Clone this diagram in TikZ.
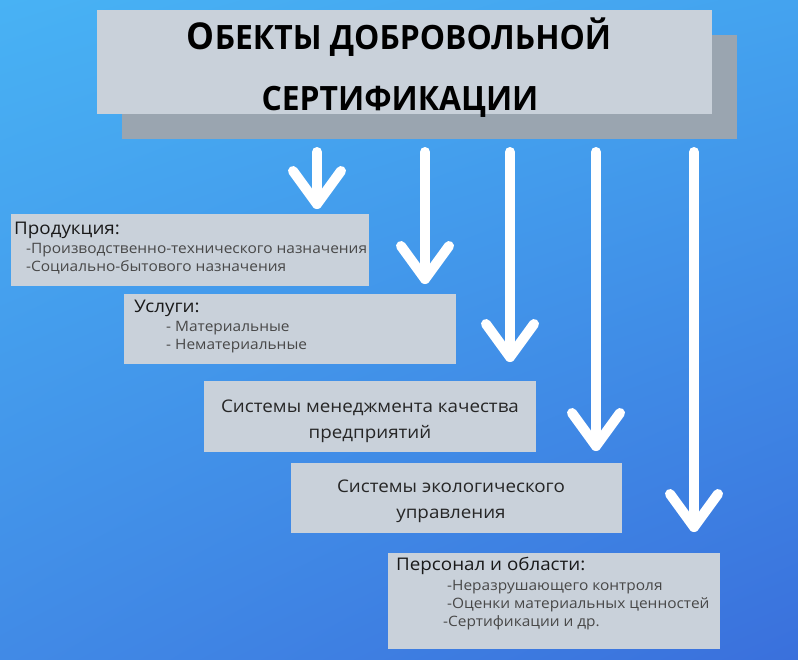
\documentclass[tikz,border=0pt]{standalone}
\usepackage{fontspec}
\usetikzlibrary{shadings}
\setmainfont[FakeStretch=1.08]{Open Sans}
\newfontfamily\titlefont[FakeStretch=0.95]{Open Sans}
\definecolor{bgUL}{HTML}{48B2F4}
\definecolor{bgUR}{HTML}{44A3EF}
\definecolor{bgLL}{HTML}{418AE6}
\definecolor{bgLR}{HTML}{3A70DC}
\definecolor{boxfill}{HTML}{C9D1DA}
\definecolor{shadowfill}{HTML}{9AA5B0}
\definecolor{subtext}{HTML}{484848}
\tikzset{
  panel/.style={fill=boxfill, draw=none},
  headtext/.style={font=\fontsize{17.4}{20}\selectfont, text=black!90, inner sep=0pt, anchor=base west},
  subitem/.style={font=\fontsize{14.3}{17}\selectfont, text=subtext, inner sep=0pt, anchor=base west},
  centertext/.style={font=\fontsize{17.4}{26}\selectfont, text=black!85, align=center, inner sep=0pt},
  titletext/.style={inner sep=0pt, anchor=base, font=\titlefont\bfseries\fontsize{33.5}{36}\selectfont},
  arrowline/.style={draw=white, line width=10pt, line cap=round},
  arrowhead/.style={draw=white, line width=10pt, line cap=round, line join=round},
}
\begin{document}
\begin{tikzpicture}[x=1pt, y=-1pt]
\useasboundingbox (0,0) rectangle (798,659);
\shade[upper left=bgUL, upper right=bgUR, lower left=bgLL, lower right=bgLR] (0,0) rectangle (798,659);

% title
\fill[shadowfill] (122,35) rectangle (737,139);
\fill[boxfill] (97,10) rectangle (712,114);
\node[titletext] (t1) at (399,49) {{\fontsize{37}{36}\selectfont О}БЕКТЫ ДОБРОВОЛЬНОЙ};
\node[titletext] (t2) at (400,110) {СЕРТИФИКАЦИИ};

% boxes
\fill[panel] (11,214) rectangle (369,286);
\node[headtext] (p0) at (14,234) {Продукция:};
\node[subitem] (p1) at (26,253) {-Производственно-технического назначения};
\node[subitem] (p2) at (26,271) {-Социально-бытового назначения};

\fill[panel] (124,294) rectangle (456,364);
\node[headtext] (u0) at (134,312) {Услуги:};
\node[subitem] (u1) at (166,331) {- Материальные};
\node[subitem] (u2) at (166,349) {- Нематериальные};

\fill[panel] (204,381) rectangle (536,452);
\node[centertext] (s1) at (370,421) {Системы менеджмента качества\\предприятий};

\fill[panel] (291,463) rectangle (622,533);
\node[centertext] (s2) at (451,501) {Системы экологического\\управления};

\fill[panel] (388,553) rectangle (720,649);
\node[headtext] (h0) at (396,570) {Персонал и области:};
\node[subitem] (h1) at (447,590) {-Неразрушающего контроля};
\node[subitem] (h2) at (447,608) {-Оценки материальных ценностей};
\node[subitem] (h3) at (443,626) {-Сертификации и др.};

% arrows
\foreach \n/\x/\y in {a/317/204, b/425/279, c/510/357, d/596/446, e/694/527} {
  \coordinate (\n top) at (\x,152);
  \coordinate (\n tip) at (\x,\y);
  \coordinate (\n l) at (\x-24,\y-33);
  \coordinate (\n r) at (\x+24,\y-33);
  \draw[arrowline] (\n top) -- (\n tip);
  \draw[arrowhead] (\n l) -- (\n tip) -- (\n r);
}
\end{tikzpicture}
\end{document}
